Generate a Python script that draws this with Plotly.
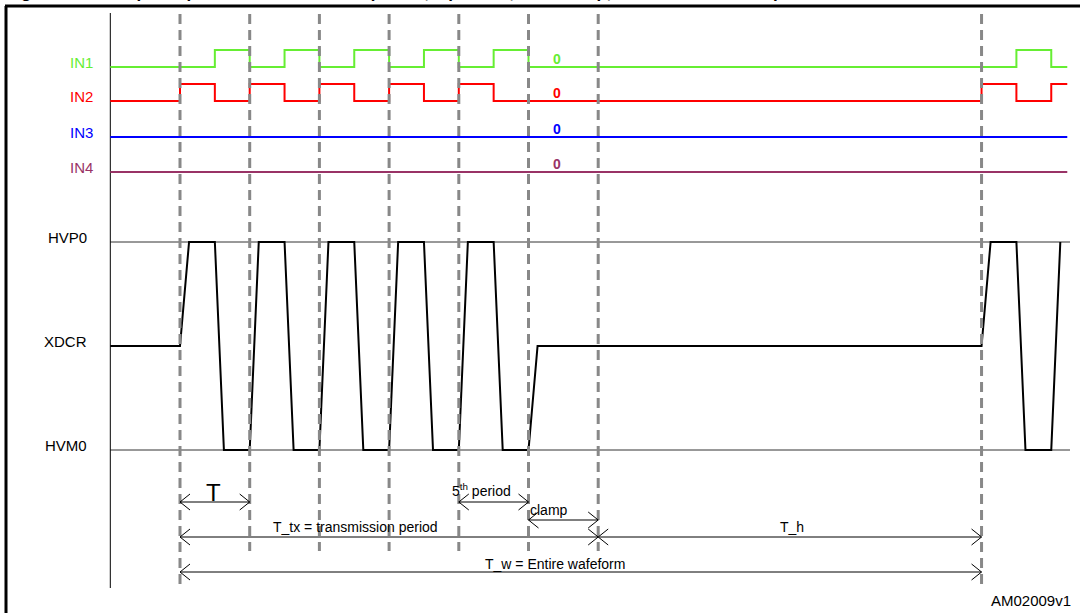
import plotly.graph_objects as go

# ---------------- data (time in units of one pulse period T) ----------------
in1_t = [-1.0, 0.5, 1.0, 1.5, 2.0, 2.5, 3.0, 3.5, 4.0, 4.5, 5.0, 12.0, 12.5, 12.73]
in1_v = [0, 1, 0, 1, 0, 1, 0, 1, 0, 1, 0, 1, 0, 0]
in2_t = [-1.0, 0.0, 0.5, 1.0, 1.5, 2.0, 2.5, 3.0, 3.5, 4.0, 4.5, 11.5, 12.0, 12.5, 12.73]
in2_v = [0, 1, 0, 1, 0, 1, 0, 1, 0, 1, 0, 1, 0, 1, 1]
in3_t = [-1.0, 12.73]
in3_v = [0, 0]
in4_t = [-1.0, 12.73]
in4_v = [0, 0]

xdcr_t = [-1.0, 0.0, 0.13, 0.5, 0.63, 1.0, 1.13, 1.5, 1.63, 2.0, 2.13, 2.5, 2.63,
          3.0, 3.13, 3.5, 3.63, 4.0, 4.13, 4.5, 4.63, 5.0, 5.13, 11.5, 11.63,
          12.0, 12.13, 12.5, 12.63]
xdcr_v = [0, 0, 1, 1, -1, -1, 1, 1, -1, -1, 1, 1, -1,
          -1, 1, 1, -1, -1, 1, 1, -1, -1, 0, 0, 1,
          1, -1, -1, 1]

period_bounds = [0, 1, 2, 3, 4, 5, 6, 11.5]
long_bounds = [0, 11.5]

span_labels = ["T", "5<sup>th</sup> period", "clamp", "T_tx = transmission period", "T_h",
               "T_w = Entire wafeform"]
span_start = [0, 4, 5, 0, 6, 0]
span_end = [1, 5, 6, 6, 11.5, 11.5]

signal_names = ["IN1", "IN2", "IN3", "IN4"]
signal_zero = ["0", "0", "0", "0"]
level_names = ["HVP0", "XDCR", "HVM0"]

# ---------------- layout / style ----------------
W, H = 1080, 613
PX = 69.7            # pixels per period
X0 = 180             # pixel of t = 0
def tx(px):
    return (px - X0) / PX

sig_colors = ["#66ee33", "#ff0000", "#0000ff", "#993366"]
sig_base = [67, 101, 137, 172]
sig_amp = 17
lvl_y = {"HVP0": 242, "XDCR": 346, "HVM0": 450}
amp_x = 104
span_rows = [502, 502, 520, 537, 537, 572]
span_text_y = [492, 490, 510, 527, 527, 564]
span_text_x = [213, 481, 549, 355, 792, 555]
span_font = [24, 14, 14, 14, 14, 14]

FONT = "Arial, Liberation Sans, sans-serif"
fig = go.Figure()

# reference level lines
for name in ["HVP0", "HVM0"]:
    fig.add_trace(go.Scatter(x=[-1.0, tx(1070)], y=[lvl_y[name]] * 2, mode="lines",
                             line=dict(color="#333333", width=1), hoverinfo="skip"))

# left vertical axis line
fig.add_trace(go.Scatter(x=[-1.0, -1.0], y=[13, 588], mode="lines",
                         line=dict(color="#000000", width=1), hoverinfo="skip"))

# digital input signals
for ts, vs, c, b in zip([in1_t, in2_t, in3_t, in4_t], [in1_v, in2_v, in3_v, in4_v],
                        sig_colors, sig_base):
    fig.add_trace(go.Scatter(x=ts, y=[b - sig_amp * v for v in vs], mode="lines",
                             line=dict(color=c, width=2, shape="hv"), hoverinfo="skip"))

# transducer waveform
fig.add_trace(go.Scatter(x=xdcr_t, y=[lvl_y["XDCR"] - amp_x * v for v in xdcr_v],
                         mode="lines", line=dict(color="#000000", width=2),
                         hoverinfo="skip"))

# dashed period boundaries
dx, dy = [], []
for b in period_bounds:
    bottom = 585 if b in long_bounds else 551
    dx += [b, b, None]
    dy += [14, bottom, None]
fig.add_trace(go.Scatter(x=dx, y=dy, mode="lines",
                         line=dict(color="#888888", width=3, dash="10px,6px"),
                         hoverinfo="skip"))

# double-headed span arrows
hx = 10 / PX
ax_, ay_ = [], []
for s, e, y in zip(span_start, span_end, span_rows):
    ax_ += [s, e, None, s + hx, s, s + hx, None, e - hx, e, e - hx, None]
    ay_ += [y, y, None, y - 8, y, y + 8, None, y - 8, y, y + 8, None]
fig.add_trace(go.Scatter(x=ax_, y=ay_, mode="lines",
                         line=dict(color="#000000", width=1), hoverinfo="skip"))

ann = []
for name, c, b in zip(signal_names, sig_colors, sig_base):
    ann.append(dict(x=95 / W, y=b - 5, xref="paper", yref="y", text=name,
                    showarrow=False, xanchor="right", yanchor="middle",
                    font=dict(family=FONT, size=15, color=c)))
for z, c, b in zip(signal_zero, sig_colors, sig_base):
    ann.append(dict(x=557 / W, y=b - 8, xref="paper", yref="y", text="<b>" + z + "</b>",
                    showarrow=False, xanchor="center", yanchor="middle",
                    font=dict(family=FONT, size=14, color=c)))
for name in level_names:
    ann.append(dict(x=89 / W, y=lvl_y[name] - 5, xref="paper", yref="y", text=name,
                    showarrow=False, xanchor="right", yanchor="middle",
                    font=dict(family=FONT, size=15, color="#000000")))
for lab, x, y, fs in zip(span_labels, span_text_x, span_text_y, span_font):
    ann.append(dict(x=x / W, y=y, xref="paper", yref="y", text=lab, showarrow=False,
                    xanchor="center", yanchor="middle",
                    font=dict(family=FONT, size=fs, color="#000000")))
ann.append(dict(x=1031 / W, y=600, xref="paper", yref="y", text="AM02009v1",
                showarrow=False, xanchor="center", yanchor="middle",
                font=dict(family=FONT, size=15, color="#000000")))
# cropped title (only its lower part is visible, as in the reference)
ann.append(dict(x=5 / W, y=3.5, xref="paper", yref="y",
                text="<b>Figure 13. Example of pulse transmission sequence, 5 periods, with clamp, hold and T_w example</b>",
                showarrow=False, xanchor="left", yanchor="bottom", borderpad=0,
                font=dict(family=FONT, size=17, color="#000000")))

shapes = [
    dict(type="line", xref="paper", yref="y", x0=5 / W, x1=1.0, y0=6, y1=6,
         line=dict(color="#000000", width=3)),
    dict(type="line", xref="paper", yref="y", x0=6 / W, x1=6 / W, y0=6, y1=613,
         line=dict(color="#000000", width=3)),
]

fig.update_layout(
    width=W, height=H, margin=dict(l=0, r=0, t=0, b=0),
    paper_bgcolor="#ffffff", plot_bgcolor="#ffffff", showlegend=False,
    xaxis=dict(range=[tx(0), tx(W)], visible=False, fixedrange=True),
    yaxis=dict(range=[H, 0], visible=False, fixedrange=True),
    annotations=ann, shapes=shapes,
)

fig.write_html("out.html", config=dict(displayModeBar=False),
               post_script="document.body.style.margin='0';document.body.style.overflow='hidden';")
